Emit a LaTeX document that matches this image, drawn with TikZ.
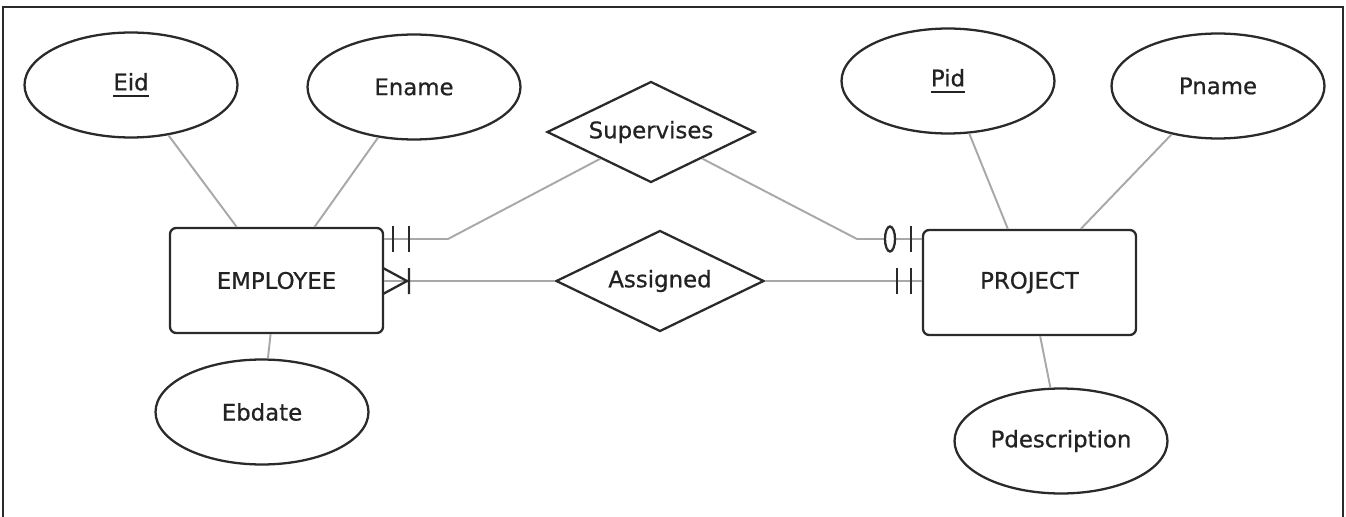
\documentclass[tikz,border=0pt]{standalone}
\usepackage{fontspec}
\setmainfont{DejaVu Sans}[FakeBold=0.7]
\usetikzlibrary{shapes.geometric}
\definecolor{trazo}{HTML}{2A2A2A}
\definecolor{enlace}{HTML}{A8A8A8}
\definecolor{texto}{HTML}{222222}
\newcommand{\clave}[1]{\leavevmode\vtop{\hbox{#1}\kern2.5pt\hrule height 1.1pt}}

\begin{document}
\begin{tikzpicture}[x=0.02cm, y=-0.02cm, font=\fontsize{13}{15}\selectfont, text=texto,
    entity/.style={draw=trazo, line width=1.3pt, rounded corners=3.5pt,
                   minimum width=4.26cm, minimum height=2.1cm},
    attrib/.style={draw=trazo, line width=1.3pt, ellipse, inner sep=1pt,
                   minimum width=4.26cm, minimum height=2.1cm},
    relation/.style={draw=trazo, line width=1.3pt, diamond, aspect=2, inner sep=1pt,
                     minimum width=4.16cm, minimum height=2.02cm},
    link/.style={draw=enlace, line width=1.1pt},
    tick/.style={draw=trazo, line width=1.3pt}]
    \useasboundingbox (0,0) rectangle (1346,517);
    \draw[trazo, line width=1.4pt] (3,517) |- (1343,7) -- (1343,517);

    % entities
    \node[entity] (emp) at (276.5,280.5) {EMPLOYEE};
    \node[entity] (proj) at (1029.5,282.5) {PROJECT};

    % attributes
    \node[attrib] (eid) at (131,85) {\clave{Eid}};
    \node[attrib] (ename) at (414,87) {Ename};
    \node[attrib] (ebdate) at (262,412) {Ebdate};
    \node[attrib] (pid) at (948,81) {\clave{Pid}};
    \node[attrib] (pname) at (1218,86) {Pname};
    \node[attrib] (pdesc) at (1061,441) {Pdescription};

    % relationships
    \node[relation] (sup) at (651,132) {Supervises};
    \node[relation] (asg) at (660,281) {Assigned};

    \foreach \a/\b in {eid/emp, ename/emp, ebdate/emp, pid/proj, pname/proj, pdesc/proj}
      \draw[link] (\a) -- (\b);

    \coordinate (k1) at (448,239);
    \coordinate (k2) at (857,239);
    \draw[link] (emp.east |- k1) -- (k1) -- (sup);
    \draw[link] (sup) -- (k2) -- (proj.west |- k2);
    \draw[link] (emp.east |- asg) -- (asg);
    \draw[link] (asg) -- (proj.west |- asg);

    % cardinalities
    \draw[tick] (393,226) -- (393,252) (409,226) -- (409,252);
    \draw[tick] (383,268) -- (407,281) -- (383,294) (409,268) -- (409,294);
    \draw[tick, fill=white] (890,239) ellipse (5 and 12.5);
    \draw[tick] (911,226) -- (911,252);
    \draw[tick] (897,268) -- (897,294) (911,268) -- (911,294);
  \end{tikzpicture}
\end{document}
